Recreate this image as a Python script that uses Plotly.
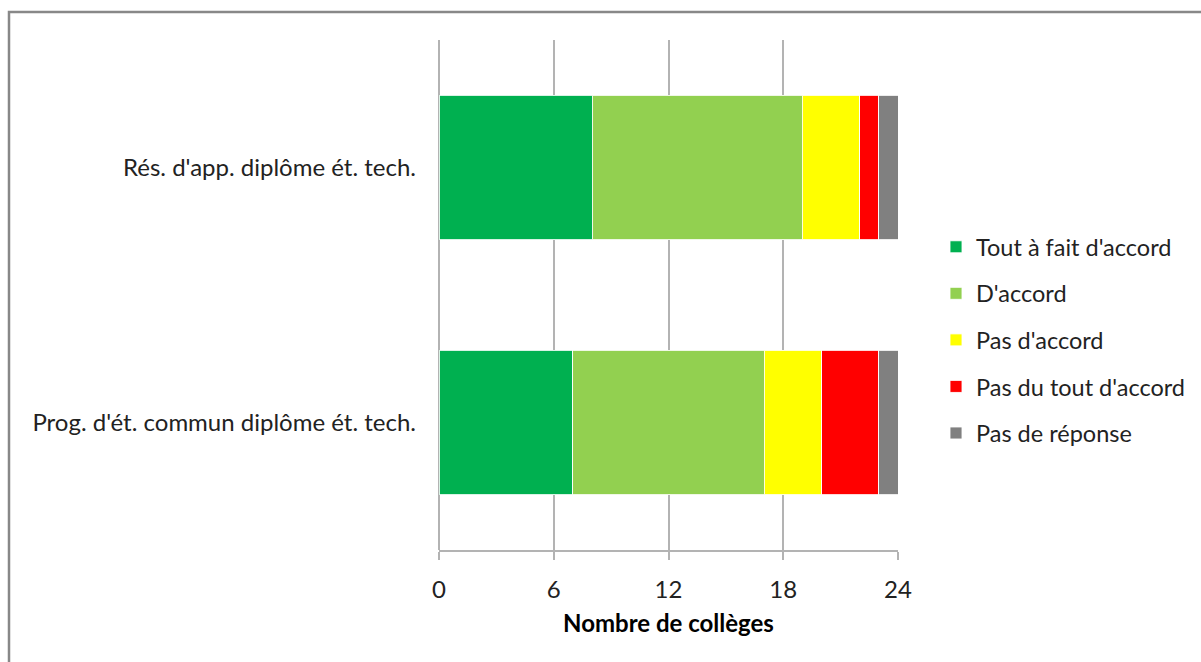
import plotly.graph_objects as go

categories = ["Rés. d'app. diplôme ét. tech.", "Prog. d'ét. commun diplôme ét. tech."]
series_names = ["Tout à fait d'accord", "D'accord", "Pas d'accord", "Pas du tout d'accord", "Pas de réponse"]
tout_a_fait = [8, 7]
d_accord = [11, 10]
pas_d_accord = [3, 3]
pas_du_tout = [1, 3]
pas_de_reponse = [1, 1]
x_ticks = [0, 6, 12, 18, 24]
colors = ["#00B050", "#92D050", "#FFFF00", "#FF0000", "#808080"]

values = [tout_a_fait, d_accord, pas_d_accord, pas_du_tout, pas_de_reponse]

FONT = "Lato"
FS = 24
fig = go.Figure()
for i, (name, vals, col) in enumerate(zip(series_names, values, colors)):
    fig.add_trace(go.Bar(
        y=categories, x=vals, name=name, orientation="h",
        marker=dict(color=col, line=dict(color="rgba(255,255,255,0.85)", width=1)),
        legendgroup=f"g{i}",
    ))

L, R, T, B = 439, 1201 - 898, 40, 662 - 550
W, H = 1201, 662
pw, ph = W - L - R, H - T - B

def px_x(p):
    return (p - L) / pw

def px_y(p):
    return (H - B - p) / ph

fig.update_layout(
    width=W, height=H,
    margin=dict(l=L, r=R, t=T, b=B, autoexpand=False),
    barmode="stack",
    bargap=0.435,
    plot_bgcolor="white", paper_bgcolor="white",
    font=dict(family=FONT, size=FS, color="#000000"),
    legend=dict(
        x=px_x(936), y=px_y(340), xanchor="left", yanchor="middle",
        font=dict(family=FONT, size=23.5, color="#222222"),
        tracegroupgap=13, bgcolor="rgba(0,0,0,0)",
    ),
    xaxis=dict(
        range=[0, 24], tickvals=x_ticks, ticktext=[str(v) for v in x_ticks],
        showgrid=True, gridcolor="#B3B3B3", gridwidth=1.5,
        zeroline=True, zerolinecolor="#B3B3B3", zerolinewidth=1.5,
        showline=True, linecolor="#B3B3B3", linewidth=1.5,
        ticks="outside", ticklen=8, tickcolor="#B3B3B3", tickwidth=1.5,
        ticklabelstandoff=9, automargin=False,
        tickfont=dict(family=FONT, size=FS, color="#222222"),
        title=dict(text="<b>Nombre de collèges</b>", font=dict(family=FONT, size=24, color="#000000"), standoff=14),
        fixedrange=True,
    ),
    yaxis=dict(
        autorange="reversed", showgrid=False, ticks="",
        showline=False, ticklabelstandoff=22, automargin=False,
        tickfont=dict(family=FONT, size=FS, color="#222222"),
        fixedrange=True,
    ),
    shapes=[dict(
        type="rect", xref="paper", yref="paper",
        x0=px_x(9), x1=px_x(1300), y0=px_y(12), y1=px_y(760),
        line=dict(color="#888888", width=2.5), layer="below",
    )],
)

fig.write_html("out.html")
